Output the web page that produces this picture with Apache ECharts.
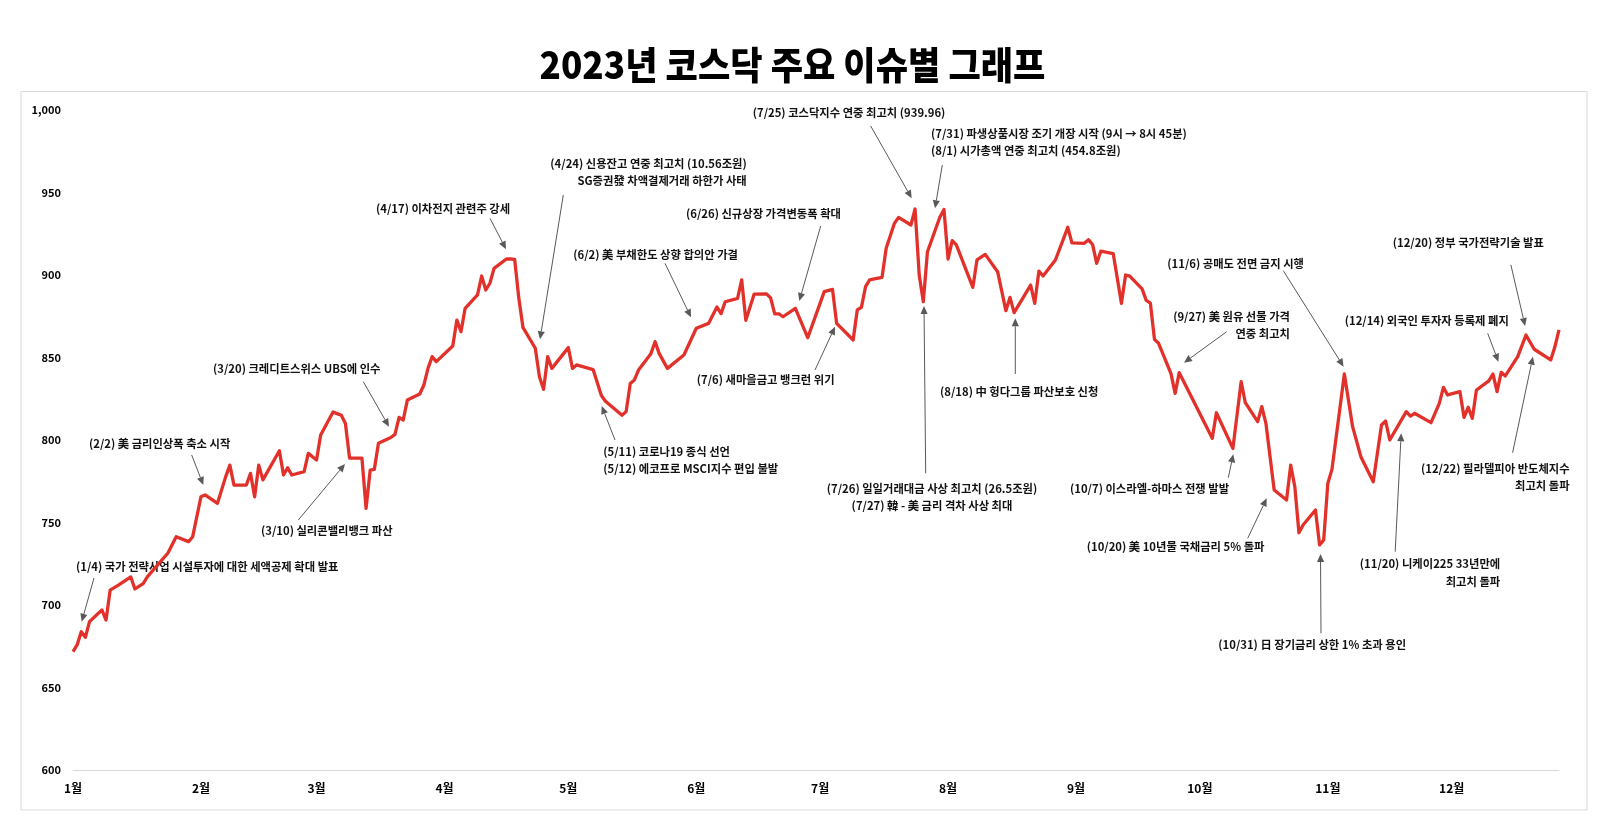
<!DOCTYPE html>
<html>
<head>
<meta charset="utf-8">
<title>2023년 코스닥 주요 이슈별 그래프</title>
<script src="https://cdn.jsdelivr.net/npm/echarts@6/dist/echarts.min.js"></script>
<style>
  html, body { margin: 0; padding: 0; background: #fff; }
  #main { width: 1608px; height: 823px; }
</style>
</head>
<body>
<div id="main"></div>
<script>
// KOSDAQ 2023 closing index (turning points of the line)
var days = [
  '01-02','01-03','01-04','01-05','01-06','01-09','01-10','01-11','01-13','01-16','01-17','01-19','01-20',
  '01-25','01-27','01-30','01-31',
  '02-02','02-03','02-06','02-08','02-09','02-10','02-13','02-14','02-15','02-16','02-17','02-21','02-22',
  '02-23','02-24','02-27','02-28',
  '03-02','03-03','03-06','03-07','03-08','03-09','03-10','03-13','03-14','03-15','03-16','03-17','03-20',
  '03-21','03-22','03-23','03-24','03-27','03-28','03-29','03-30','03-31',
  '04-04','04-05','04-06','04-07','04-10','04-11','04-12','04-13','04-14','04-17','04-18','04-19','04-20',
  '04-21','04-24','04-25','04-26','04-27','04-28',
  '05-02','05-03','05-04','05-08','05-10','05-11','05-15','05-16','05-17','05-18','05-19','05-22','05-23',
  '05-24','05-26','05-30',
  '06-02','06-05','06-07','06-08','06-09','06-12','06-13','06-14','06-16','06-19','06-20','06-21','06-22',
  '06-23','06-26','06-29',
  '07-03','07-05','07-06','07-10','07-11','07-12','07-13','07-14','07-17','07-18','07-20','07-21','07-24',
  '07-25','07-26','07-27','07-28','07-31',
  '08-01','08-02','08-03','08-04','08-08','08-09','08-11','08-14','08-16','08-17','08-18','08-22','08-23',
  '08-24','08-25','08-28','08-31',
  '09-01','09-04','09-05','09-06','09-07','09-08','09-11','09-13','09-14','09-15','09-18','09-19','09-20',
  '09-21','09-22','09-25','09-26','09-27',
  '10-05','10-06','10-10','10-12','10-13','10-16','10-17','10-18','10-20','10-23','10-24','10-25','10-26',
  '10-27','10-30','10-31',
  '11-01','11-02','11-03','11-06','11-08','11-10','11-13','11-14','11-15','11-16','11-17','11-21','11-22',
  '11-23','11-27','11-29','11-30',
  '12-01','12-04','12-05','12-06','12-07','12-08','12-11','12-12','12-13','12-14','12-15','12-18','12-20',
  '12-22','12-26','12-27','12-28'
];
var kosdaq = [
  671.7,675.8,683.8,680.4,689.9,697.0,690.9,709.0,712.0,717.0,709.7,713.0,717.0,
  731.5,741.4,738.4,741.4,
  765.6,766.7,761.6,777.8,784.8,772.7,772.7,779.8,765.6,784.8,775.8,793.5,778.8,
  783.2,778.8,780.8,791.9,
  787.9,803.0,817.0,816.0,815.0,810.0,789.0,789.0,758.6,781.8,782.2,798.0,801.5,
  803.4,813.7,812.1,824.2,827.9,833.3,843.4,850.5,847.5,
  857.0,872.7,865.6,879.8,887.9,899.4,890.9,895.0,904.0,909.7,909.7,909.5,886.0,
  868.3,855.6,838.4,830.7,850.5,843.4,
  856.0,843.4,845.5,842.7,827.0,823.5,815.0,817.2,834.3,836.4,842.4,852.3,859.6,
  852.5,843.4,851.5,
  867.7,870.7,880.6,876.6,883.8,885.8,897.0,872.5,888.4,888.6,886.1,876.4,876.5,
  874.7,879.8,862.0,
  889.9,891.3,870.7,860.6,878.8,880.4,892.9,897.0,898.6,916.2,931.3,934.9,930.3,
  940.0,900.0,883.8,914.1,935.0,
  939.7,909.7,920.8,918.2,892.5,909.1,912.5,902.0,878.4,886.4,877.2,893.9,882.8,
  902.4,899.4,909.1,928.9,
  919.5,919.2,921.4,918.5,907.1,914.4,913.0,882.8,900.0,899.3,891.6,884.6,883.0,
  861.0,858.6,840.2,828.3,840.8,
  801.0,816.5,794.9,835.4,822.6,811.1,820.2,810.1,769.7,763.6,784.8,771.7,743.8,
  748.5,757.6,736.4,
  739.4,773.8,782.2,840.0,808.1,789.9,774.7,791.9,809.1,811.5,800.0,817.2,814.5,
  816.2,810.5,822.2,831.9,
  827.3,829.3,813.7,819.8,813.1,830.3,835.8,840.0,829.3,841.0,838.8,850.5,863.6,
  855.0,848.5,856.5,866.7
];
// month labels sit on the 2nd of each month, like the source sheet's date axis
var monthDays = ['01-02','02-02','03-02','04-02','05-02','06-02','07-02','08-02','09-02','10-02','11-02','12-02'];
var monthNames = ['1월','2월','3월','4월','5월','6월','7월','8월','9월','10월','11월','12월'];
var firstDay = '01-02', lastDay = '12-28';
var yMin = 600, yMax = 1000, yStep = 50;

var title = '2023년 코스닥 주요 이슈별 그래프';

// annotation layout: text block (first line centre) and arrow from -> to, in pixels
var notes = [
  { lines: ['(1/4) 국가 전략사업 시설투자에 대한 세액공제 확대 발표'], align: 'left', x: 76, y: 567, from: [94, 578], to: [81.7, 621.7] },
  { lines: ['(2/2) 美 금리인상폭 축소 시작'], align: 'left', x: 89, y: 444, from: [191.7, 455], to: [203.3, 485] },
  { lines: ['(3/10) 실리콘밸리뱅크 파산'], align: 'left', x: 261, y: 531, from: [298.3, 520], to: [345, 464] },
  { lines: ['(3/20) 크레디트스위스 UBS에 인수'], align: 'left', x: 213, y: 369, from: [363.3, 381.7], to: [389, 426.7] },
  { lines: ['(4/17) 이차전지 관련주 강세'], align: 'left', x: 376, y: 209, from: [490, 218.3], to: [506, 249.3] },
  { lines: ['(4/24) 신용잔고 연중 최고치 (10.56조원)', 'SG증권發 차액결제거래 하한가 사태'], align: 'right', x: 746.7, y: 163.3, from: [563.3, 195], to: [540, 339.3] },
  { lines: ['(5/11) 코로나19 종식 선언', '(5/12) 에코프로 MSCI지수 편입 불발'], align: 'left', x: 603.3, y: 451.7, from: [615, 440], to: [601.7, 406] },
  { lines: ['(6/2) 美 부채한도 상향 합의안 가결'], align: 'left', x: 573.3, y: 255, from: [665, 263.3], to: [691, 317.3] },
  { lines: ['(6/26) 신규상장 가격변동폭 확대'], align: 'left', x: 686, y: 213.3, from: [820.7, 226], to: [799.3, 301] },
  { lines: ['(7/6) 새마을금고 뱅크런 위기'], align: 'left', x: 696.7, y: 380, from: [815, 370], to: [835, 326.7] },
  { lines: ['(7/25) 코스닥지수 연중 최고치 (939.96)'], align: 'left', x: 752.7, y: 112.5, from: [870.7, 126], to: [911.7, 198.3] },
  { lines: ['(7/31) 파생상품시장 조기 개장 시작 (9시 → 8시 45분)', '(8/1) 시가총액 연중 최고치 (454.8조원)'], align: 'left', x: 931, y: 133.3, from: [942.3, 165], to: [935, 208.3] },
  { lines: ['(7/26) 일일거래대금 사상 최고치 (26.5조원)', '(7/27) 韓 - 美 금리 격차 사상 최대'], align: 'center', x: 932, y: 488.3, from: [925.7, 473.3], to: [924, 306] },
  { lines: ['(8/18) 中 헝다그룹 파산보호 신청'], align: 'left', x: 940, y: 391.7, from: [1015.3, 374], to: [1015.3, 318.3] },
  { lines: ['(9/27) 美 원유 선물 가격', '연중 최고치'], align: 'right', x: 1290, y: 316.7, from: [1226.7, 331.7], to: [1184, 362.7] },
  { lines: ['(10/7) 이스라엘-하마스 전쟁 발발'], align: 'left', x: 1070, y: 488.3, from: [1228.3, 477.7], to: [1233.3, 454.3] },
  { lines: ['(10/20) 美 10년물 국채금리 5% 돌파'], align: 'left', x: 1086.7, y: 546.7, from: [1247.7, 538.3], to: [1266.7, 498.3] },
  { lines: ['(10/31) 日 장기금리 상한 1% 초과 용인'], align: 'left', x: 1218.3, y: 645, from: [1321, 633.3], to: [1320.5, 554] },
  { lines: ['(11/6) 공매도 전면 금지 시행'], align: 'left', x: 1167.3, y: 263.3, from: [1283.3, 270.7], to: [1343.6, 366.7] },
  { lines: ['(11/20) 니케이225 33년만에', '최고치 돌파'], align: 'right', x: 1500.2, y: 564, from: [1395.2, 551.7], to: [1401.2, 433.3] },
  { lines: ['(12/14) 외국인 투자자 등록제 폐지'], align: 'left', x: 1344.7, y: 320.7, from: [1487.7, 333.3], to: [1498.4, 361.7] },
  { lines: ['(12/20) 정부 국가전략기술 발표'], align: 'left', x: 1392.7, y: 242.7, from: [1510.9, 265], to: [1525.1, 326] },
  { lines: ['(12/22) 필라델피아 반도체지수', '최고치 돌파'], align: 'right', x: 1569.6, y: 468.3, from: [1512.6, 452.7], to: [1532.9, 356.7] }
];

var FONT = '"Noto Sans CJK KR", "Noto Sans", sans-serif';
var ARROW = '#595959';
var LINE_H = 17.5;

// day number counted from the first trading day (2 Jan 2023)
function dayNum(md) {
  var p = md.split('-');
  return Math.round((Date.UTC(2023, +p[0] - 1, +p[1]) - Date.UTC(2023, 0, 2)) / 86400000);
}

function arrowParts(a, b) {
  var dx = b[0] - a[0], dy = b[1] - a[1];
  var len = Math.sqrt(dx * dx + dy * dy);
  var ux = dx / len, uy = dy / len;
  var hl = 8, hw = 3.6;
  var bx = b[0] - ux * hl, by = b[1] - uy * hl;
  return [
    { type: 'line', silent: true, shape: { x1: a[0], y1: a[1], x2: bx, y2: by },
      style: { stroke: ARROW, lineWidth: 1 } },
    { type: 'polygon', silent: true,
      shape: { points: [[b[0], b[1]], [bx - uy * hw, by + ux * hw], [bx + uy * hw, by - ux * hw]] },
      style: { fill: ARROW } }
  ];
}

var graphics = [
  { type: 'rect', silent: true, z: -1, shape: { x: 21, y: 91.5, width: 1566, height: 718.5 },
    style: { fill: 'none', stroke: '#d9d9d9', lineWidth: 1 } },
  { type: 'text', silent: true, x: 792.5, y: 64.5, scaleX: 0.925,
    style: { text: title, fontSize: 38, fontWeight: 900, fontFamily: FONT, fill: '#000',
      align: 'center', verticalAlign: 'middle' } }
];
notes.forEach(function (n) {
  graphics.push({
    type: 'text', silent: true, x: n.x, y: n.y - LINE_H / 2,
    style: { text: n.lines.join('\n'), fontSize: 11.3, fontWeight: 'bold', fontFamily: FONT,
      fill: '#111', align: n.align, verticalAlign: 'top', lineHeight: LINE_H }
  });
  graphics = graphics.concat(arrowParts(n.from, n.to));
});

var lineData = days.map(function (d, i) { return [dayNum(d), kosdaq[i]]; });
var monthPos = monthDays.map(dayNum);

var dom = document.getElementById('main');
var myChart = echarts.init(dom, null, { renderer: 'canvas' });
var option = {
  backgroundColor: '#fff',
  animation: false,
  grid: { left: 73, right: 49, top: 110, bottom: 53, containLabel: false },
  xAxis: {
    type: 'value',
    min: dayNum(firstDay),
    max: dayNum(lastDay),
    axisLine: { show: true, lineStyle: { color: '#d9d9d9', width: 1 } },
    axisTick: { show: false },
    splitLine: { show: false },
    axisLabel: {
      customValues: monthPos,
      margin: 12,
      color: '#000',
      fontSize: 12,
      fontWeight: 'bold',
      fontFamily: FONT,
      formatter: function (value) {
        var i = monthPos.indexOf(Math.round(value));
        return i >= 0 ? monthNames[i] : '';
      }
    }
  },
  yAxis: {
    type: 'value',
    min: yMin,
    max: yMax,
    interval: yStep,
    axisLine: { show: false },
    axisTick: { show: false },
    splitLine: { show: false },
    axisLabel: {
      margin: 12,
      color: '#000',
      fontSize: 11,
      fontWeight: 'bold',
      fontFamily: FONT,
      formatter: function (v) { return v.toLocaleString('en-US'); }
    }
  },
  series: [
    {
      name: '코스닥',
      type: 'line',
      data: lineData,
      showSymbol: false,
      symbol: 'none',
      lineStyle: { color: '#e2312a', width: 3.3, join: 'round' },
      itemStyle: { color: '#e2312a' }
    }
  ],
  graphic: graphics
};

if (option && typeof option === 'object') {
  myChart.setOption(option);
}
</script>
</body>
</html>
